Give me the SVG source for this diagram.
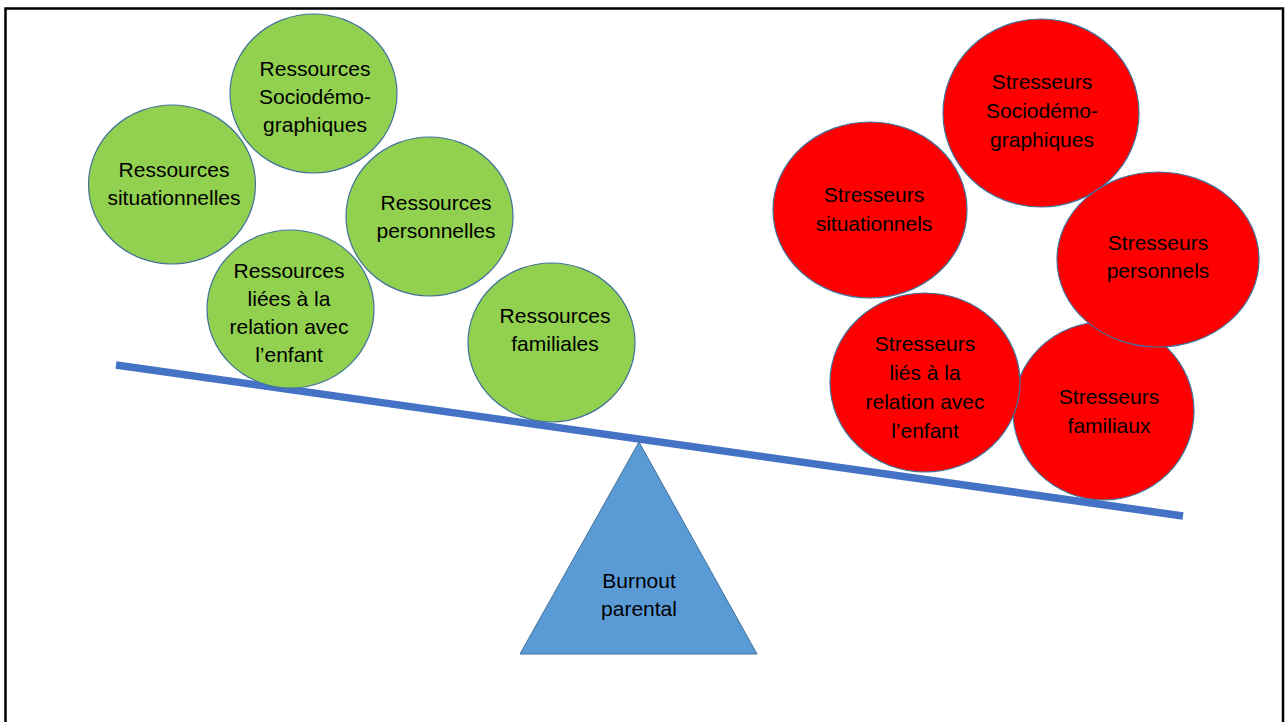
<svg xmlns="http://www.w3.org/2000/svg" width="1286" height="722" viewBox="0 0 1286 722">
  <style>
    .res { fill: #92D050; stroke: #41719C; stroke-width: 1.2; }
    .str { fill: #FF0000; stroke: #41719C; stroke-width: 1.2; }
    .lbl { font-family: "Liberation Sans", Arial, sans-serif; font-size: 21px; fill: #000; text-anchor: middle; }
    .beam { stroke: #4472C4; stroke-width: 7.5; stroke-linecap: butt; fill: none; }
    .pivot { fill: #5B9BD5; stroke: #41719C; stroke-width: 1; }
  </style>

  <rect x="0" y="0" width="1286" height="722" fill="#FFFFFF"/>
  <!-- slide frame, open at the bottom -->
  <path d="M5.5,722 V8.5 H1283 V722" fill="none" stroke="#000" stroke-width="2.5"/>

  <!-- seesaw beam -->
  <g id="connectors">
    <line class="beam" x1="116" y1="365" x2="1183" y2="516"/>
  </g>

  <!-- pivot -->
  <g id="burnout">
    <polygon class="pivot" points="639,442 520,654 757,654"/>
    <text class="lbl" x="639" y="588">Burnout</text>
    <text class="lbl" x="639" y="616">parental</text>
  </g>

  <!-- resources (left pan) -->
  <g id="res-sociodemo">
    <ellipse class="res" cx="313.5" cy="93.5" rx="83.5" ry="79.5"/>
    <text class="lbl" x="315" y="76">Ressources</text>
    <text class="lbl" x="315" y="104">Sociodémo-</text>
    <text class="lbl" x="315" y="132">graphiques</text>
  </g>
  <g id="res-situationnelles">
    <ellipse class="res" cx="172" cy="184.5" rx="83.5" ry="79.5"/>
    <text class="lbl" x="174" y="177">Ressources</text>
    <text class="lbl" x="174" y="205">situationnelles</text>
  </g>
  <g id="res-personnelles">
    <ellipse class="res" cx="429.5" cy="216.5" rx="83.5" ry="79.5"/>
    <text class="lbl" x="436" y="210">Ressources</text>
    <text class="lbl" x="436" y="238">personnelles</text>
  </g>
  <g id="res-relation">
    <ellipse class="res" cx="290.5" cy="309" rx="83.5" ry="79"/>
    <text class="lbl" x="289" y="278">Ressources</text>
    <text class="lbl" x="289" y="306">liées à la</text>
    <text class="lbl" x="289" y="334">relation avec</text>
    <text class="lbl" x="289" y="362">l’enfant</text>
  </g>
  <g id="res-familiales">
    <ellipse class="res" cx="551.5" cy="342.5" rx="83.5" ry="79.5"/>
    <text class="lbl" x="555" y="323">Ressources</text>
    <text class="lbl" x="555" y="351">familiales</text>
  </g>

  <!-- stressors (right pan) -->
  <g id="str-situationnels">
    <ellipse class="str" cx="870" cy="210" rx="97" ry="88"/>
    <text class="lbl" x="874" y="202">Stresseurs</text>
    <text class="lbl" x="874" y="231">situationnels</text>
  </g>
  <g id="str-sociodemo">
    <ellipse class="str" cx="1041" cy="113" rx="98" ry="94"/>
    <text class="lbl" x="1042" y="89">Stresseurs</text>
    <text class="lbl" x="1042" y="118">Sociodémo-</text>
    <text class="lbl" x="1042" y="147">graphiques</text>
  </g>
  <g id="str-familiaux">
    <ellipse class="str" cx="1103.5" cy="411" rx="90.5" ry="89"/>
    <text class="lbl" x="1109" y="404">Stresseurs</text>
    <text class="lbl" x="1109" y="433">familiaux</text>
  </g>
  <g id="str-relation">
    <ellipse class="str" cx="925" cy="382.5" rx="95" ry="89.5"/>
    <text class="lbl" x="925" y="351">Stresseurs</text>
    <text class="lbl" x="925" y="380">liés à la</text>
    <text class="lbl" x="925" y="409">relation avec</text>
    <text class="lbl" x="925" y="438">l’enfant</text>
  </g>
  <g id="str-personnels">
    <ellipse class="str" cx="1158" cy="259.5" rx="101" ry="87.5"/>
    <text class="lbl" x="1158" y="250">Stresseurs</text>
    <text class="lbl" x="1158" y="278">personnels</text>
  </g>
</svg>
